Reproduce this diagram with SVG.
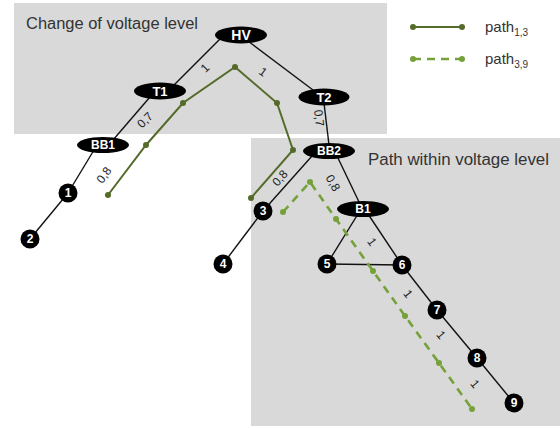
<svg xmlns="http://www.w3.org/2000/svg" width="560" height="428" viewBox="0 0 560 428">
<style>
.box{fill:#d9d9d9}
.title{font-family:"Liberation Sans",Arial,sans-serif;font-size:16px;fill:#333}
.edge{stroke:#111;stroke-width:1.4;fill:none}
.lbl{font-family:"Liberation Sans",Arial,sans-serif;font-size:12px;fill:#222;text-anchor:middle;dominant-baseline:central}
.node{fill:#000}
.nt{font-family:"Liberation Sans",Arial,sans-serif;font-weight:bold;fill:#fff;text-anchor:middle;dominant-baseline:central}
.p13{stroke:#546b2a;stroke-width:2;fill:none}
.p39{stroke:#76a13a;stroke-width:2.6;fill:none;stroke-dasharray:8,6}
.d13{fill:#546b2a}
.d39{fill:#76a13a}
.leg{font-family:"Liberation Sans",Arial,sans-serif;font-size:15px;fill:#333}
</style>
<rect width="560" height="428" fill="#fff"/>
<rect class="box" x="14" y="3" width="373" height="131"/>
<rect class="box" x="251" y="138" width="309" height="288"/>
<text class="title" x="26" y="29" textLength="172" lengthAdjust="spacingAndGlyphs">Change of voltage level</text>
<text class="title" x="368" y="165" textLength="181" lengthAdjust="spacingAndGlyphs">Path within voltage level</text>

<g id="legend">
<line class="p13" x1="413" y1="27" x2="462" y2="27"/>
<circle class="d13" cx="413" cy="27" r="3"/><circle class="d13" cx="462" cy="27" r="3"/>
<text class="leg" x="485" y="32">path<tspan font-size="10" dy="4">1,3</tspan></text>
<line class="p39" x1="413" y1="59" x2="462" y2="59" stroke-dasharray="9,6"/>
<circle class="d39" cx="413" cy="59" r="3"/><circle class="d39" cx="462" cy="59" r="3"/>
<text class="leg" x="485" y="64">path<tspan font-size="10" dy="4">3,9</tspan></text>
</g>

<g id="connectors">
<line class="edge" x1="220" y1="39" x2="173" y2="86"/>
<line class="edge" x1="248" y1="41" x2="313" y2="90"/>
<line class="edge" x1="150" y1="97" x2="113" y2="140"/>
<line class="edge" x1="324" y1="103" x2="329" y2="145"/>
<line class="edge" x1="94" y1="150" x2="68" y2="193"/>
<line class="edge" x1="68" y1="193" x2="30" y2="239"/>
<line class="edge" x1="312" y1="156" x2="263" y2="211"/>
<line class="edge" x1="263" y1="211" x2="223" y2="264"/>
<line class="edge" x1="337" y1="156" x2="360" y2="204"/>
<line class="edge" x1="358" y1="214" x2="327" y2="264"/>
<line class="edge" x1="368" y1="214" x2="402" y2="265"/>
<line class="edge" x1="327" y1="264" x2="402" y2="265"/>
<line class="edge" x1="402" y1="265" x2="437" y2="310"/>
<line class="edge" x1="437" y1="310" x2="477" y2="358"/>
<line class="edge" x1="477" y1="358" x2="514" y2="403"/>
<text class="lbl" transform="translate(205,68) rotate(-45)">1</text>
<text class="lbl" transform="translate(263,72) rotate(36)">1</text>
<text class="lbl" transform="translate(145,120) rotate(-45)">0,7</text>
<text class="lbl" transform="translate(319,118) rotate(83)">0,7</text>
<text class="lbl" transform="translate(104,175) rotate(-55)">0,8</text>
<text class="lbl" transform="translate(280,178) rotate(-48)">0,8</text>
<text class="lbl" transform="translate(333,183) rotate(60)">0,8</text>
<text class="lbl" transform="translate(372,242) rotate(55)">1</text>
<text class="lbl" transform="translate(408,294) rotate(52)">1</text>
<text class="lbl" transform="translate(441,335) rotate(50)">1</text>
<text class="lbl" transform="translate(475,384) rotate(50)">1</text>
</g>

<g id="path13">
<polyline class="p13" points="108,195 146,145 183,103 235,67 277,103 293,150 251,198"/>
<circle class="d13" cx="108" cy="195" r="3"/><circle class="d13" cx="146" cy="145" r="3"/>
<circle class="d13" cx="183" cy="103" r="3"/><circle class="d13" cx="235" cy="67" r="3"/>
<circle class="d13" cx="277" cy="103" r="3"/><circle class="d13" cx="293" cy="150" r="3"/>
<circle class="d13" cx="251" cy="198" r="3"/>
</g>
<g id="path39">
<polyline class="p39" points="283,212 310,182 336,219 373,271 405,316 439,363 472,409"/>
<circle class="d39" cx="283" cy="212" r="3"/><circle class="d39" cx="310" cy="182" r="3"/>
<circle class="d39" cx="336" cy="219" r="3"/><circle class="d39" cx="373" cy="271" r="3"/>
<circle class="d39" cx="405" cy="316" r="3"/><circle class="d39" cx="439" cy="363" r="3"/>
<circle class="d39" cx="472" cy="409" r="3"/>
</g>

<g id="HV"><ellipse class="node" cx="241" cy="35" rx="26" ry="8.5"/><text class="nt" x="241" y="35" font-size="14">HV</text></g>
<g id="T1"><ellipse class="node" cx="160" cy="91" rx="26" ry="8.5"/><text class="nt" x="160" y="91" font-size="13">T1</text></g>
<g id="T2"><ellipse class="node" cx="324" cy="97" rx="25.5" ry="8.5"/><text class="nt" x="324" y="97" font-size="13">T2</text></g>
<g id="BB1"><ellipse class="node" cx="103" cy="145" rx="26" ry="8"/><text class="nt" x="103" y="145" font-size="12" font-weight="normal">BB1</text></g>
<g id="BB2"><ellipse class="node" cx="329" cy="151" rx="26" ry="8"/><text class="nt" x="329" y="151" font-size="12">BB2</text></g>
<g id="B1"><ellipse class="node" cx="363" cy="209" rx="26" ry="8"/><text class="nt" x="363" y="209" font-size="12">B1</text></g>
<g id="n1"><circle class="node" cx="68" cy="193" r="9.5"/><text class="nt" x="68" y="193" font-size="12">1</text></g>
<g id="n2"><circle class="node" cx="30" cy="239" r="9.5"/><text class="nt" x="30" y="239" font-size="12">2</text></g>
<g id="n3"><circle class="node" cx="263" cy="211" r="9.5"/><text class="nt" x="263" y="211" font-size="12">3</text></g>
<g id="n4"><circle class="node" cx="223" cy="264" r="9.5"/><text class="nt" x="223" y="264" font-size="12">4</text></g>
<g id="n5"><circle class="node" cx="327" cy="264" r="9.5"/><text class="nt" x="327" y="264" font-size="12">5</text></g>
<g id="n6"><circle class="node" cx="402" cy="265" r="9.5"/><text class="nt" x="402" y="265" font-size="12">6</text></g>
<g id="n7"><circle class="node" cx="437" cy="310" r="9.5"/><text class="nt" x="437" y="310" font-size="12">7</text></g>
<g id="n8"><circle class="node" cx="477" cy="358" r="9.5"/><text class="nt" x="477" y="358" font-size="12">8</text></g>
<g id="n9"><circle class="node" cx="514" cy="403" r="9.5"/><text class="nt" x="514" y="403" font-size="12">9</text></g>
</svg>
